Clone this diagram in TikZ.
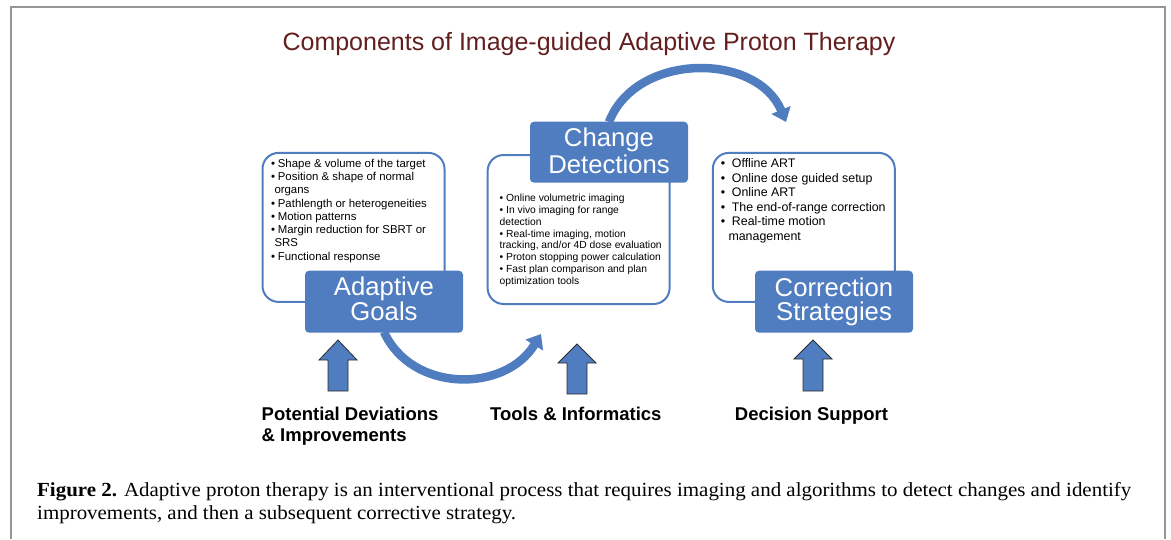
\documentclass[tikz,border=0pt]{standalone}
\usepackage{fontspec}
\setmainfont{Liberation Sans}
\newfontfamily\capfont{Liberation Serif}
\usetikzlibrary{arrows.meta}

\definecolor{boxblue}{RGB}{80,125,192}
\definecolor{titlered}{RGB}{99,30,30}
\definecolor{framegray}{RGB}{150,150,150}
\definecolor{arrowedge}{RGB}{45,45,45}

% bullet set in a box of the given width
\newcommand\bul[1]{\makebox[#1][l]{•}}
% upward block arrow: centre x, tip y, head base y, foot y
\newcommand\blockup[4]{%
  \draw[blockarrow] (#1,#2) -- ({#1+19},#3) -- ({#1+10},#3) -- ({#1+10},#4)
    -- ({#1-10},#4) -- ({#1-10},#3) -- ({#1-19},#3) -- cycle;}

\begin{document}
\begin{tikzpicture}[x=1pt,y=-1pt,
  listframe/.style={draw=boxblue, line width=2pt, rounded corners=16pt,
    fill=white, inner sep=0pt, minimum width=182pt, minimum height=149pt},
  stagebox/.style={fill=boxblue, rounded corners=4pt, inner sep=0pt,
    minimum width=158pt, minimum height=62pt},
  stagetext/.style={text=white, anchor=base, inner sep=0pt,
    font=\fontsize{25.7}{26}\selectfont},
  listtext/.style={anchor=north west, inner sep=0pt, align=left},
  basetext/.style={anchor=base west, inner sep=0pt,
    font=\fontsize{18.5}{21.7}\selectfont\bfseries},
  curvearrow/.style={draw=boxblue, line width=8.5pt,
    -{Triangle[length=13pt,width=20pt]}},
  blockarrow/.style={fill=boxblue, draw=arrowedge, line width=0.8pt},
]
\useasboundingbox (0,0) rectangle (1171,539);

% page frame, open at the bottom
\draw[framegray, line width=2pt] (11,539) -- (11,7) -- (1165,7) -- (1165,539);

% title
\node[anchor=base, inner sep=0pt, text=titlered,
  font=\fontsize{25}{30}\selectfont] (title) at (589,50.5)
  {Components of Image-guided Adaptive Proton Therapy};

% rounded list frames
\node[listframe] (goalsframe) at (353.5,227.4) {};
\node[listframe, minimum height=149pt] (detframe) at (578.6,229.5) {};
\node[listframe] (corrframe) at (803.8,227.4) {};

% list contents
\node[listtext, font=\fontsize{11.4}{13.24}\selectfont] (goalslist) at (271,158.0)
  {\strut\bul{6.7pt}Shape \& volume of the target\\
   \bul{6.7pt}Position \& shape of normal\\
   \hspace*{3.3pt}organs\\
   \bul{6.7pt}Pathlength or heterogeneities\\
   \bul{6.7pt}Motion patterns\\
   \bul{6.7pt}Margin reduction for SBRT or\\
   \hspace*{3.3pt}SRS\\
   \bul{6.7pt}Functional response};
\node[listtext, font=\fontsize{10.3}{11.76}\selectfont] (detlist) at (499.5,193.5)
  {\strut\bul{6.5pt}Online volumetric imaging\\
   \bul{6.5pt}In vivo imaging for range\\
   detection\\
   \bul{6.5pt}Real-time imaging, motion\\
   tracking, and/or 4D dose evaluation\\
   \bul{6.5pt}Proton stopping power calculation\\
   \bul{6.5pt}Fast plan comparison and plan\\
   optimization tools};
\node[listtext, font=\fontsize{12.4}{14.5}\selectfont] (corrlist) at (720.7,157.15)
  {\strut\bul{11pt}Offline ART\\
   \bul{11pt}Online dose guided setup\\
   \bul{11pt}Online ART\\
   \bul{11pt}The end-of-range correction\\
   \bul{11pt}Real-time motion\\
   \hspace*{7.6pt}management};

% curved flow arrows between the stages
\coordinate (lowtip) at (541,334);
\coordinate (hightip) at (786,122);
\draw[curvearrow] (384,332) .. controls (412,393) and (505,393) .. (lowtip);
\draw[curvearrow] (609,122) .. controls (636,52) and (757,52) .. (hightip);

% stage boxes
\node[stagebox] (goals) at (384,301.7) {};
\node[stagebox, minimum height=61pt] (change) at (609,152.2) {};
\node[stagebox] (corr) at (834,301.7) {};
\node[stagetext] (goalsA) at (384,295.7) {Adaptive};
\node[stagetext] (goalsB) at (384,320) {Goals};
\node[stagetext] (changeA) at (609,146.7) {Change};
\node[stagetext] (changeB) at (609,173.3) {Detections};
\node[stagetext] (corrA) at (834,296.7) {Correction};
\node[stagetext] (corrB) at (834,320) {Strategies};

% inputs feeding each stage
\blockup{338}{340}{360}{391}
\blockup{577}{344}{363}{394}
\blockup{813}{340}{359}{391}

\node[listtext, font=\fontsize{18.5}{21.7}\selectfont\bfseries] (deviations) at (261.5,404.8)
  {\strut Potential Deviations\\ \& Improvements};
\node[basetext] (tools) at (490,420) {Tools \& Informatics};
\node[basetext] (decision) at (734.7,420) {Decision Support};

% caption, set condensed to the frame width
\node[anchor=north west, inner sep=0pt,
  font=\capfont\fontsize{20}{22.5}\selectfont] (caption) at (37,481)
  {\resizebox{1094pt}{\height}{\begin{tabular}{@{}l@{}}
   \textbf{Figure 2.} Adaptive proton therapy is an interventional process that requires imaging and algorithms to detect changes and identify\\
   improvements, and then a subsequent corrective strategy.
   \end{tabular}}};
\end{tikzpicture}
\end{document}
